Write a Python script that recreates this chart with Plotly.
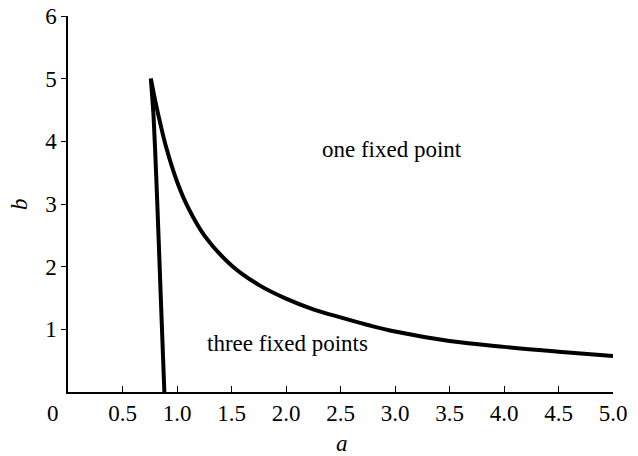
import plotly.graph_objects as go

# Fold curve bounding the region with three fixed points (upper branch)
upper_a = [0.76, 0.80, 0.85, 0.90, 1.00, 1.10, 1.25, 1.50, 1.75, 2.00, 2.25, 2.50,
           2.75, 3.00, 3.50, 4.00, 4.50, 5.00]
upper_b = [5.00, 4.65, 4.26, 3.91, 3.36, 2.95, 2.50, 2.02, 1.71, 1.49, 1.32, 1.19,
           1.07, 0.965, 0.815, 0.72, 0.643, 0.575]

# Steep lower branch
lower_a = [0.76, 0.785, 0.808, 0.826, 0.843, 0.858, 0.872, 0.884]
lower_b = [5.00, 4.40, 3.50, 2.70, 1.90, 1.20, 0.55, 0.00]

x_tick_vals = [0.5, 1.0, 1.5, 2.0, 2.5, 3.0, 3.5, 4.0, 4.5, 5.0]
x_tick_text = ["0.5", "1.0", "1.5", "2.0", "2.5", "3.0", "3.5", "4.0", "4.5", "5.0"]
y_tick_vals = [1, 2, 3, 4, 5, 6]
y_tick_text = ["1", "2", "3", "4", "5", "6"]

FONT = "Liberation Serif"
FS = 23
W, H = 638, 456
ML, MR, MT, MB = 68, 25, 16, 64

fig = go.Figure()
fig.add_trace(go.Scatter(x=upper_a, y=upper_b, mode="lines",
                         line=dict(color="black", width=4, shape="spline", smoothing=1.0),
                         showlegend=False, hoverinfo="skip"))
fig.add_trace(go.Scatter(x=lower_a, y=lower_b, mode="lines",
                         line=dict(color="black", width=4, shape="spline", smoothing=0.6),
                         showlegend=False, hoverinfo="skip"))

txt = dict(family=FONT, size=FS, color="black")
fig.add_annotation(x=2.97, y=3.87, text="one fixed point", showarrow=False, font=txt)
fig.add_annotation(x=2.01, y=0.78, text="three fixed points", showarrow=False, font=txt)

# Shared origin label
fig.add_annotation(xref="paper", yref="paper", x=0, y=0, xshift=-15, yshift=-21,
                   xanchor="center", yanchor="middle", text="0", showarrow=False, font=txt)

# Axis titles
pw, ph = W - ML - MR, H - MT - MB
fig.add_annotation(xref="paper", yref="paper", x=(342 - ML) / pw, y=0, yshift=-(443 - (H - MB)),
                   xanchor="center", yanchor="middle", text="<i>a</i>", showarrow=False, font=txt)
fig.add_annotation(xref="paper", yref="paper", x=0, xshift=-(ML - 19), y=(H - MB - 204) / ph,
                   xanchor="center", yanchor="middle", textangle=-90,
                   text="<i>b</i>", showarrow=False, font=txt)

fig.update_layout(
    width=W, height=H,
    margin=dict(l=ML, r=MR, t=MT, b=MB),
    paper_bgcolor="white", plot_bgcolor="white",
    font=txt,
    xaxis=dict(range=[0, 5], tickvals=x_tick_vals, ticktext=x_tick_text,
               ticks="inside", ticklen=6, tickwidth=1, tickcolor="black",
               showline=True, linecolor="black", linewidth=1.5,
               showgrid=False, zeroline=False, automargin=False,
               tickfont=txt),
    yaxis=dict(range=[0, 6], tickvals=y_tick_vals, ticktext=y_tick_text,
               ticks="outside", ticklen=5, tickwidth=1, tickcolor="black",
               showline=True, linecolor="black", linewidth=1.5,
               showgrid=False, zeroline=False, automargin=False,
               tickfont=txt),
)

fig.write_html("out.html")
